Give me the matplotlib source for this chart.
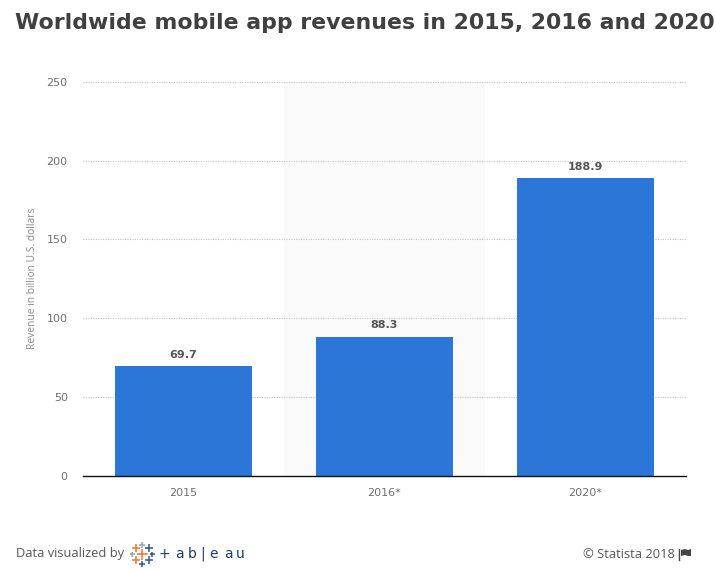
import matplotlib
matplotlib.use("Agg")
import matplotlib.pyplot as plt

years = ["2015", "2016*", "2020*"]
revenue = [69.7, 88.3, 188.9]
y_ticks = [0, 50, 100, 150, 200, 250]

W, H = 716, 571
fig = plt.figure(figsize=(W / 100, H / 100), dpi=100, facecolor="white")
plt.rcParams["font.family"] = ["Open Sans", "DejaVu Sans"]

# axes box in pixels
ax = fig.add_axes([83 / W, 1 - 475.5 / H, 603 / W, 393.5 / H])
pos = list(range(len(years)))
ax.axvspan(0.5, 1.5, color="#fafafa", zorder=0, lw=0)
ax.bar(pos, revenue, width=0.686, color="#2b76d6", zorder=3)
ax.set_xlim(-0.5, 2.5)
ax.set_ylim(0, 250)
ax.set_xticks(pos)
ax.set_xticklabels(years, fontsize=8, color="#707070", family="DejaVu Sans")
ax.set_yticks(y_ticks)
ax.set_yticklabels(y_ticks, fontsize=8, color="#707070", family="DejaVu Sans")
ax.tick_params(axis="both", length=0)
ax.tick_params(axis="x", pad=9)
ax.tick_params(axis="y", pad=11)
ax.grid(axis="y", color="#c4c4c4", linestyle=(0, (1, 1.2)), linewidth=0.8, zorder=1)
ax.set_axisbelow(True)
for s in ["top", "left", "right"]:
    ax.spines[s].set_visible(False)
ax.spines["bottom"].set_color("#111111")
ax.spines["bottom"].set_linewidth(1.0)
ax.spines["bottom"].set_zorder(5)

for p, v in zip(pos, revenue):
    ax.annotate(str(v), (p, v), xytext=(0, 4.5), textcoords="offset points", ha="center",
                va="bottom", fontsize=8, fontweight="bold", color="#555555", family="DejaVu Sans")

fig.text(33 / W, 1 - 278 / H, "Revenue in billion U.S. dollars", rotation=90, ha="center", va="center",
         fontsize=7.4, color="#8a8a8a")
fig.text(15 / W, 1 - 23 / H, "Worldwide mobile app revenues in 2015, 2016 and 2020", ha="left", va="center",
         fontsize=15.8, fontweight="bold", color="#404040", family="DejaVu Sans")

# footer
fig.text(16 / W, 1 - 553.5 / H, "Data visualized by", ha="left", va="center", fontsize=9.3, color="#555555")
fig.text(583 / W, 1 - 554 / H, "© Statista 2018", ha="left", va="center", fontsize=9.3, color="#555555")

# tableau logo, built from plus signs
logo = fig.add_axes([0, 0, 1, 1])
logo.set_xlim(0, W)
logo.set_ylim(H, 0)
logo.axis("off")
logo.patch.set_alpha(0)
marks = [(142, 554, 11, "#e8762d"), (136, 548, 8, "#e8762d"), (142, 545, 6, "#9aa5ae"), (149, 548, 8, "#34558b"),
         (136, 560, 8, "#e8762d"), (149, 560, 8, "#34558b"), (142, 564, 6, "#34558b"),
         (132, 554, 5, "#9aa5ae"), (152, 554, 5, "#34558b")]
for x, y, s, c in marks:
    logo.plot([x - s / 2, x + s / 2], [y, y], color=c, lw=1.1, solid_capstyle="butt")
    logo.plot([x, x], [y - s / 2, y + s / 2], color=c, lw=1.1, solid_capstyle="butt")
letters = ["+", "a", "b", "|", "e", "a", "u"]
letter_x = [164, 179, 192, 203, 213, 228, 240]
for x, ch in zip(letter_x, letters):
    logo.text(x, 554, ch, ha="center", va="center", fontsize=10, color="#1f3a66", family="DejaVu Sans")

# flag icon next to copyright
logo.plot([679, 679], [549, 560], color="#444444", lw=1)
logo.fill([681, 685, 688, 691, 691, 688, 685, 681], [550, 549, 550, 549, 556, 556, 555, 556], color="#444444", lw=0)

fig.savefig("out.png", dpi=100)
